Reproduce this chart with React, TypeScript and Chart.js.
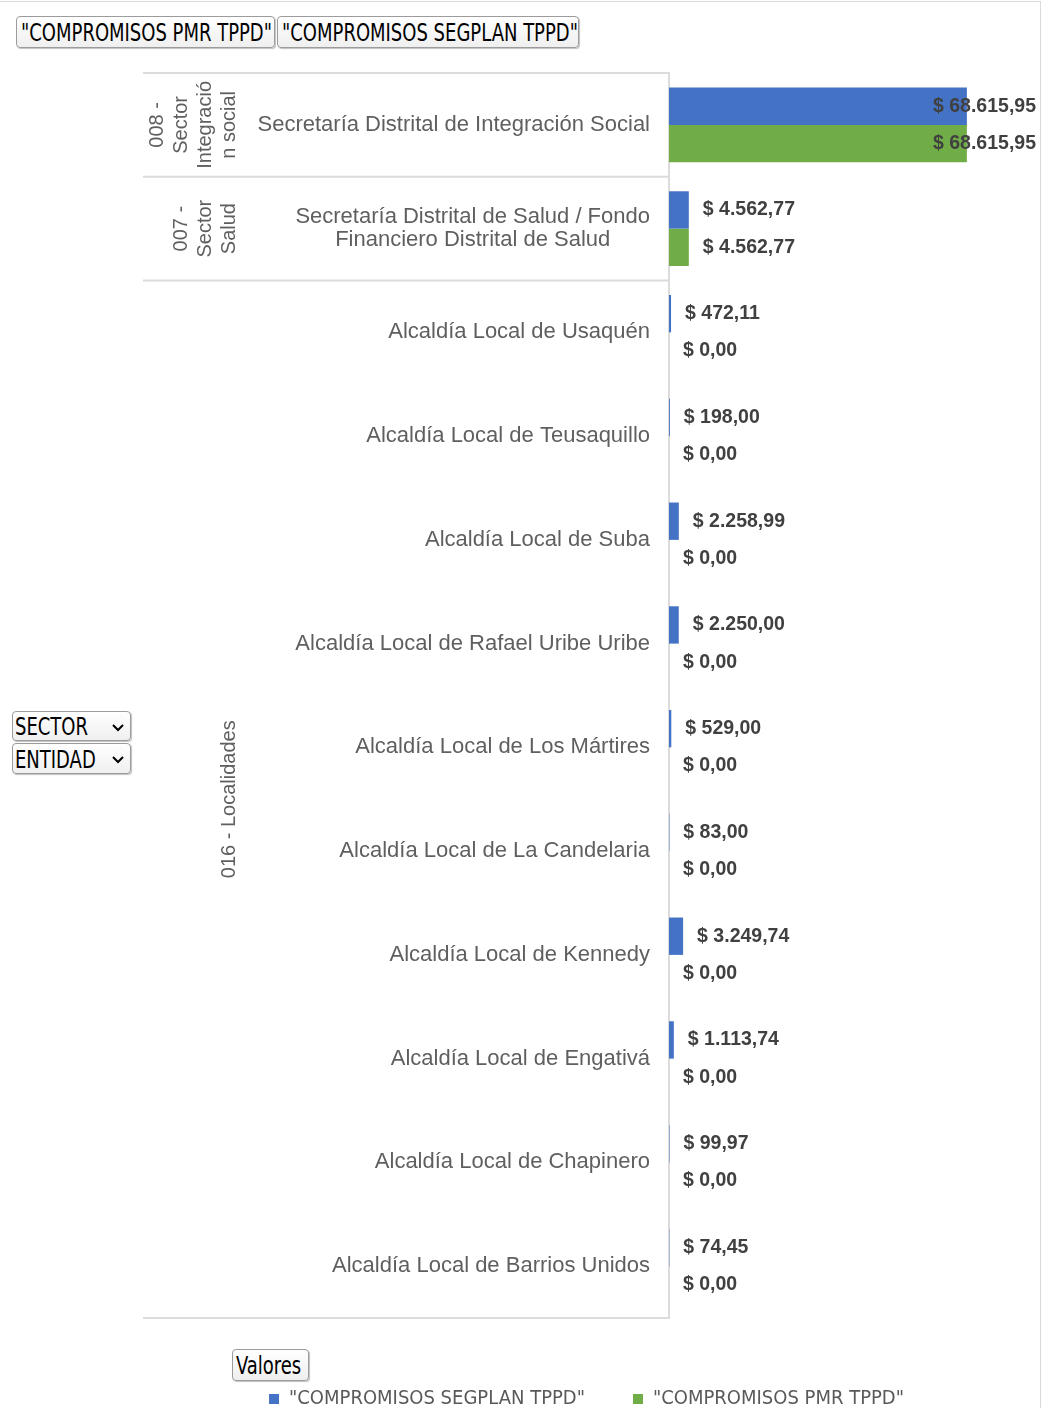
import React, { useEffect, useRef } from "react";
import { Chart, registerables } from "chart.js";

Chart.register(...registerables);

// ---------- DATA ----------
const sectorLines: string[][] = [
  ["008 -", "Sector", "Integració", "n social"],
  ["007 -", "Sector", "Salud"],
  ["016 - Localidades"],
];
// first and last category index of each sector
const sectorStart = [0, 1, 2];
const sectorEnd = [0, 1, 11];

const entityLines: string[][] = [
  ["Secretaría Distrital de Integración Social"],
  ["Secretaría Distrital de Salud / Fondo", "Financiero Distrital de Salud"],
  ["Alcaldía Local de Usaquén"],
  ["Alcaldía Local de Teusaquillo"],
  ["Alcaldía Local de Suba"],
  ["Alcaldía Local de Rafael Uribe Uribe"],
  ["Alcaldía Local de Los Mártires"],
  ["Alcaldía Local de La Candelaria"],
  ["Alcaldía Local de Kennedy"],
  ["Alcaldía Local de Engativá"],
  ["Alcaldía Local de Chapinero"],
  ["Alcaldía Local de Barrios Unidos"],
];
const categories = entityLines.map((l) => l.join(" "));

const segplanLabel = '"COMPROMISOS SEGPLAN TPPD"';
const pmrLabel = '"COMPROMISOS PMR TPPD"';
const segplanValues = [68615.95, 4562.77, 472.11, 198.0, 2258.99, 2250.0, 529.0, 83.0, 3249.74, 1113.74, 99.97, 74.45];
const pmrValues = [68615.95, 4562.77, 0, 0, 0, 0, 0, 0, 0, 0, 0, 0];

const BLUE = "#4472C4";
const GREEN = "#70AD47";
const NARROW = '"Liberation Sans Narrow", "Arial Narrow", "DejaVu Sans Condensed", sans-serif';
const SANS = '"Liberation Sans", Arial, sans-serif';

function fmtMoney(v: number): string {
  const [int, dec] = v.toFixed(2).split(".");
  const withSep = int.replace(/\B(?=(\d{3})+(?!\d))/g, ".");
  return "$ " + withSep + "," + dec;
}

const pivotPlugin = {
  id: "pivotLabels",
  afterDraw(chart: any) {
    const { ctx, chartArea } = chart;
    const y = chart.scales.y;
    const n = categories.length;
    const step = (chartArea.bottom - chartArea.top) / n;
    const catTop = (i: number) => y.getPixelForValue(i) - step / 2;
    const catBot = (i: number) => y.getPixelForValue(i) + step / 2;
    ctx.save();

    // separator lines between sectors
    ctx.strokeStyle = "#dcdcdc";
    ctx.lineWidth = 2;
    const bounds = [catTop(0), ...sectorEnd.map((e) => catBot(e))];
    bounds.forEach((by) => {
      ctx.beginPath();
      ctx.moveTo(8, by);
      ctx.lineTo(chartArea.left, by);
      ctx.stroke();
    });

    // entity labels
    ctx.fillStyle = "#5f5f5f";
    ctx.font = "22px " + SANS;
    ctx.textBaseline = "middle";
    ctx.textAlign = "center";
    const rightEdge = chartArea.left - 19;
    entityLines.forEach((lines, i) => {
      const cy = y.getPixelForValue(i);
      const maxW = Math.max(...lines.map((l) => ctx.measureText(l).width));
      const cx = rightEdge - maxW / 2;
      const lh = 23;
      lines.forEach((l, k) => {
        ctx.fillText(l, cx, cy + (k - (lines.length - 1) / 2) * lh);
      });
    });

    // sector labels (rotated)
    ctx.font = "20px " + SANS;
    sectorLines.forEach((lines, s) => {
      const cy = (catTop(sectorStart[s]) + catBot(sectorEnd[s])) / 2;
      const lastX = 94;
      const lh = 24;
      lines.forEach((l, k) => {
        const lx = lastX - (lines.length - 1 - k) * lh;
        ctx.save();
        ctx.translate(lx, cy);
        ctx.rotate(-Math.PI / 2);
        ctx.fillText(l, 0, 0);
        ctx.restore();
      });
    });

    // data labels
    ctx.font = "bold 19.5px " + SANS;
    ctx.fillStyle = "#404040";
    ctx.textAlign = "left";
    chart.data.datasets.forEach((ds: any, di: number) => {
      const meta = chart.getDatasetMeta(di);
      meta.data.forEach((bar: any, i: number) => {
        const txt = fmtMoney(ds.data[i]);
        const w = ctx.measureText(txt).width;
        let lx = bar.x + 14;
        if (lx + w > chartArea.right - 2) lx = chartArea.right - 2 - w;
        ctx.fillText(txt, lx, bar.y);
      });
    });
    ctx.restore();
  },
};

const btnStyle: React.CSSProperties = {
  position: "absolute",
  boxSizing: "border-box",
  border: "1px solid #9c9c9c",
  borderRadius: 4,
  background: "linear-gradient(#ffffff, #efefef)",
  boxShadow: "1px 1px 1px rgba(0,0,0,0.25)",
  fontFamily: NARROW,
  fontSize: 20,
  color: "#000",
  whiteSpace: "nowrap",
  paddingLeft: 4,
  display: "flex",
  alignItems: "center",
  overflow: "hidden",
};

const tall: React.CSSProperties = { display: "inline-block", transform: "scaleY(1.22)" };

function Chevron() {
  return (
    <svg width="12" height="8" viewBox="0 0 12 8" style={{ position: "absolute", right: 6, top: 12 }}>
      <polyline points="1,1 6,6 11,1" fill="none" stroke="#000" strokeWidth="2" />
    </svg>
  );
}

export default function App() {
  const canvasRef = useRef<HTMLCanvasElement | null>(null);

  useEffect(() => {
    if (!canvasRef.current) return;
    const chart = new Chart(canvasRef.current, {
      type: "bar",
      data: {
        labels: categories,
        datasets: [
          { label: segplanLabel, data: segplanValues, backgroundColor: BLUE, borderWidth: 0, categoryPercentage: 0.72, barPercentage: 1 },
          { label: pmrLabel, data: pmrValues, backgroundColor: GREEN, borderWidth: 0, categoryPercentage: 0.72, barPercentage: 1 },
        ],
      },
      options: {
        indexAxis: "y",
        responsive: false,
        animation: false,
        layout: { padding: { top: 13, right: 7, bottom: 0, left: 0 } },
        scales: {
          x: {
            min: 0,
            max: 85000,
            display: true,
            ticks: { display: false },
            grid: { display: false },
            border: { display: false },
            afterFit: (s: any) => {
              s.height = 23;
            },
          },
          y: {
            type: "category",
            ticks: { display: false },
            grid: { display: false },
            border: { display: true, color: "#dcdcdc", width: 2 },
            afterFit: (s: any) => {
              s.width = 534;
            },
          },
        },
        plugins: {
          tooltip: { enabled: false },
          legend: {
            display: true,
            position: "bottom",
            labels: {
              boxWidth: 10,
              boxHeight: 10,
              padding: 48,
              color: "#595959",
              font: { family: NARROW, size: 20 },
            },
          },
        },
      },
      plugins: [pivotPlugin],
    });
    return () => chart.destroy();
  }, []);

  return (
    <div style={{ position: "absolute", left: 0, top: 0, width: 1045, height: 1408, overflow: "hidden", background: "#fff" }}>
      <div style={{ position: "absolute", left: 0, top: 1, width: 1041, height: 0, borderTop: "1px solid #dadada" }} />
      <div style={{ position: "absolute", left: 1040, top: 1, width: 0, height: 1408, borderLeft: "1px solid #dadada" }} />

      <div style={{ ...btnStyle, left: 16, top: 16, width: 259, height: 32 }}>
        <span style={tall}>{pmrLabel}</span>
      </div>
      <div style={{ ...btnStyle, left: 277, top: 16, width: 302, height: 32 }}>
        <span style={tall}>{segplanLabel}</span>
      </div>

      <div style={{ ...btnStyle, left: 12, top: 711, width: 119, height: 30, paddingLeft: 2 }}>
        <span style={tall}>SECTOR</span>
        <Chevron />
      </div>
      <div style={{ ...btnStyle, left: 12, top: 743, width: 119, height: 31, paddingLeft: 2 }}>
        <span style={tall}>ENTIDAD</span>
        <Chevron />
      </div>
      <div style={{ ...btnStyle, left: 232, top: 1349, width: 77, height: 32, paddingLeft: 3 }}>
        <span style={tall}>Valores</span>
      </div>

      <canvas
        ref={canvasRef}
        width={910}
        height={1359}
        style={{ position: "absolute", left: 135, top: 60, width: 910, height: 1359 }}
      />
    </div>
  );
}
